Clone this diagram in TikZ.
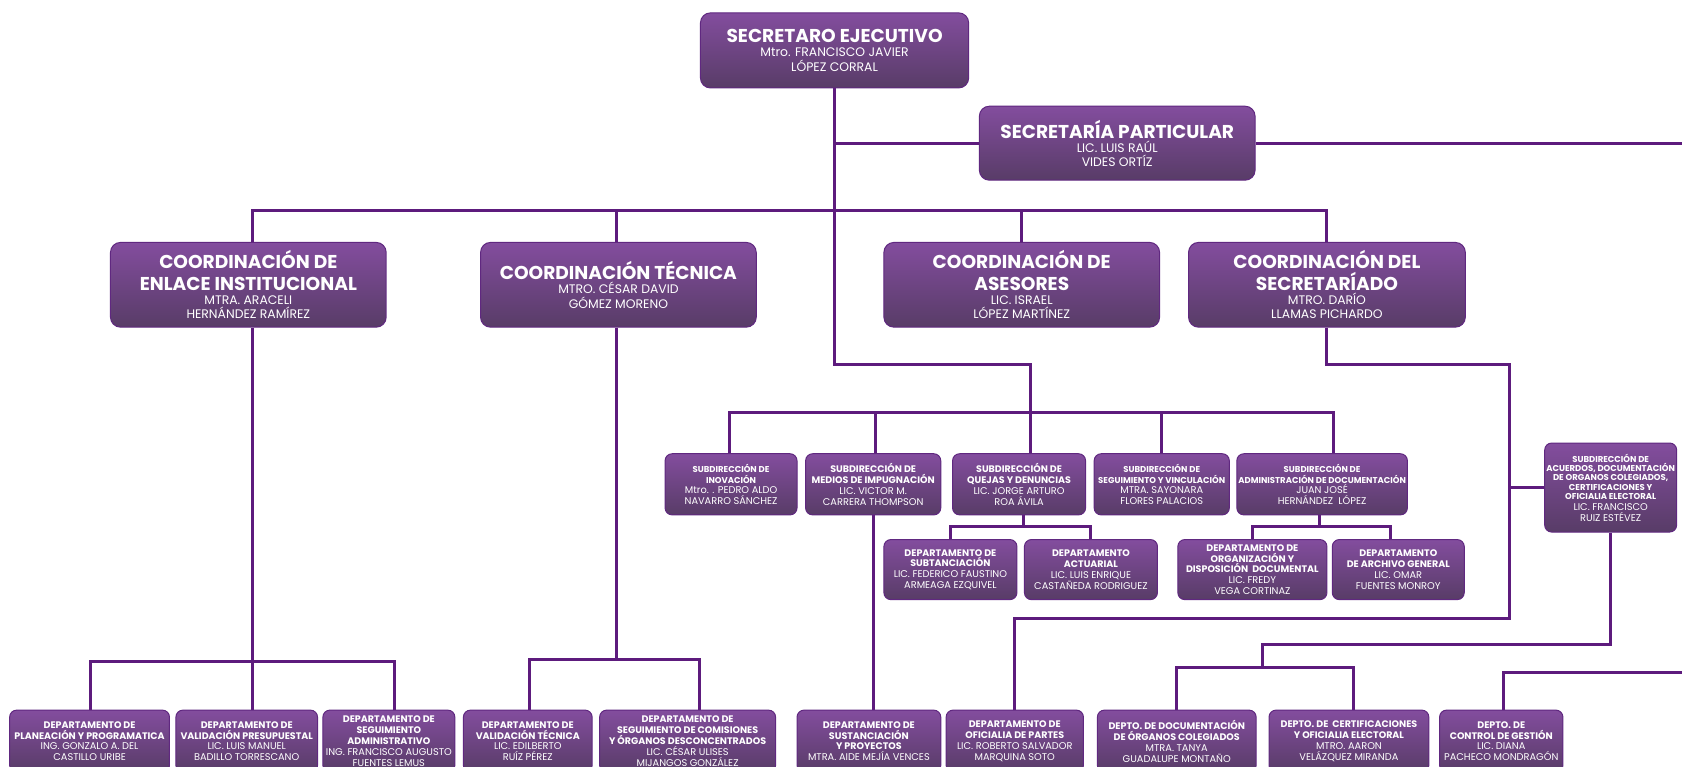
\documentclass[tikz,border=0pt]{standalone}
\usepackage{fontspec}
\setmainfont{Poppins}
\usetikzlibrary{backgrounds}

% one drawing unit
\newcommand\uPx{0.53635pt}

\definecolor{boxtop}{RGB}{131,77,158}
\definecolor{boxbot}{RGB}{88,60,103}
\definecolor{boxedge}{RGB}{96,40,128}
\definecolor{linkc}{RGB}{93,27,125}

% type sizes
\newcommand\TitA{\fontsize{9.3}{10}\selectfont\bfseries}
\newcommand\NamA{\fontsize{6.2}{7}\selectfont\mdseries}
\newcommand\TitB{\fontsize{4.75}{5}\selectfont\bfseries}
\newcommand\TitC{\fontsize{4.25}{5}\selectfont\bfseries}
\newcommand\NamB{\fontsize{4.9}{5}\selectfont\mdseries}

\tikzset{
  orgbox/.style={draw=boxedge, line width=0.5pt, top color=boxtop, bottom color=boxbot,
    text=white, align=center, inner sep=0pt},
  big/.style={orgbox, rounded corners=5pt, minimum width=257*\uPx, minimum height=79*\uPx,
    font=\fontsize{6.2}{7.1}\selectfont},
  small/.style={orgbox, rounded corners=3.5pt,
    font=\fontsize{4.9}{5.4}\selectfont},
  sub/.style={small, minimum height=57*\uPx},
  dept/.style={small, minimum height=56*\uPx},
  low/.style={small, minimum height=58*\uPx},
  link/.style={draw=linkc, line width=1.5pt},
}

\begin{document}
\lineskiplimit=-20pt
\begin{tikzpicture}[x=0.53635pt, y=-0.53635pt]
\useasboundingbox (0,0) rectangle (1568,715);
\clip (0,0) rectangle (1568,715);

% ---- top level
\node[big, minimum width=250*\uPx, minimum height=70*\uPx] (se) at (778,47)
  {\TitA SECRETARO EJECUTIVO\\\NamA Mtro. FRANCISCO JAVIER\\\NamA LÓPEZ CORRAL};
\node[big, minimum height=69*\uPx] (sp) at (1041.5,133.5)
  {\TitA SECRETARÍA PARTICULAR\\\NamA LIC. LUIS RAÚL\\\NamA VIDES ORTÍZ};

% ---- coordinations
\node[big] (enlace) at (231.5,265.5)
  {\TitA COORDINACIÓN DE\\[3.8pt]\TitA ENLACE INSTITUCIONAL\\\NamA MTRA. ARACELI\\\NamA HERNÁNDEZ RAMÍREZ};
\node[big] (tecnica) at (576.5,265.5)
  {\TitA COORDINACIÓN TÉCNICA\\\NamA MTRO. CÉSAR DAVID\\\NamA GÓMEZ MORENO};
\node[big] (asesores) at (952.5,265.5)
  {\TitA COORDINACIÓN DE\\[3.8pt]\TitA ASESORES\\\NamA LIC. ISRAEL\\\NamA LÓPEZ MARTÍNEZ};
\node[big, minimum width=258*\uPx] (secretariado) at (1237,265.5)
  {\TitA COORDINACIÓN DEL\\[3.8pt]\TitA SECRETARÍADO\\\NamA MTRO. DARÍO\\\NamA LLAMAS PICHARDO};

% ---- subdirecciones
\node[sub, minimum width=123*\uPx] (inov) at (681.5,451.5)
  {\TitC SUBDIRECCIÓN DE\\\TitC INOVACIÓN\\\NamB Mtro. . PEDRO ALDO\\\NamB NAVARRO SÁNCHEZ};
\node[sub, minimum width=126*\uPx] (medios) at (814,451.5)
  {\TitB SUBDIRECCIÓN DE\\\TitB MEDIOS DE IMPUGNACIÓN\\\NamB LIC. VICTOR M.\\\NamB CARRERA THOMPSON};
\node[sub, minimum width=124*\uPx] (quejas) at (950,451.5)
  {\TitB SUBDIRECCIÓN DE\\\TitB QUEJAS Y DENUNCIAS\\\NamB LIC. JORGE ARTURO\\\NamB ROA ÁVILA};
\node[sub, minimum width=126*\uPx] (seguim) at (1083,451.5)
  {\TitC SUBDIRECCIÓN DE\\\TitC SEGUIMIENTO Y VINCULACIÓN\\\NamB MTRA. SAYONARA\\\NamB FLORES PALACIOS};
\node[sub, minimum width=159*\uPx] (admin) at (1232.5,451.5)
  {\TitC SUBDIRECCIÓN DE\\\TitC ADMINISTRACIÓN DE DOCUMENTACIÓN\\\NamB JUAN JOSÉ\\\NamB HERNÁNDEZ\ \ LÓPEZ};
\node[small, minimum width=123*\uPx, minimum height=83*\uPx] (acuerdos) at (1501.5,454.5)
  {\TitC SUBDIRECCIÓN DE\\[-0.7pt]\TitC ACUERDOS, DOCUMENTACIÓN\\[-0.7pt]\TitC DE ORGANOS COLEGIADOS,\\[-0.7pt]\TitC CERTIFICACIONES Y\\[-0.7pt]\TitC OFICIALIA ELECTORAL\\\NamB LIC. FRANCISCO\\\NamB RUIZ ESTÉVEZ};

% ---- departments, middle row
\node[dept, minimum width=124*\uPx] (subt) at (886,531)
  {\TitB DEPARTAMENTO DE\\\TitB SUBTANCIACIÓN\\\NamB LIC. FEDERICO FAUSTINO\\\NamB ARMEAGA EZQUIVEL};
\node[dept, minimum width=124*\uPx] (actu) at (1017,531)
  {\TitB DEPARTAMENTO\\\TitB ACTUARIAL\\\NamB LIC. LUIS ENRIQUE\\\NamB CASTAÑEDA RODRIGUEZ};
\node[dept, minimum width=139*\uPx] (organ) at (1167.5,531)
  {\TitB DEPARTAMENTO DE\\\TitB ORGANIZACIÓN Y\\\TitB DISPOSICIÓN\ \ DOCUMENTAL\\\NamB LIC. FREDY\\\NamB VEGA CORTINAZ};
\node[dept, minimum width=123*\uPx] (archivo) at (1303.5,531)
  {\TitB DEPARTAMENTO\\\TitB DE ARCHIVO GENERAL\\\NamB LIC. OMAR\\\NamB FUENTES MONROY};

% ---- departments, bottom row
\node[low, minimum width=149*\uPx] (plan) at (83.5,691)
  {\TitB DEPARTAMENTO DE\\\TitB PLANEACIÓN Y PROGRAMATICA\\\NamB ING. GONZALO A. DEL\\\NamB CASTILLO URIBE};
\node[low, minimum width=132*\uPx] (valpres) at (230,691)
  {\TitB DEPARTAMENTO DE\\\TitB VALIDACIÓN PRESUPUESTAL\\\NamB LIC. LUIS MANUEL\\\NamB BADILLO TORRESCANO};
\node[low, minimum width=123*\uPx] (segadm) at (362.5,691)
  {\TitB DEPARTAMENTO DE\\\TitB SEGUIMIENTO\\\TitB ADMINISTRATIVO\\\NamB ING. FRANCISCO AUGUSTO\\\NamB FUENTES LEMUS};
\node[low, minimum width=120*\uPx] (valtec) at (492,691)
  {\TitB DEPARTAMENTO DE\\\TitB VALIDACIÓN TÉCNICA\\\NamB LIC. EDILBERTO\\\NamB RUÍZ PÉREZ};
\node[low, minimum width=164*\uPx] (segcom) at (641,691)
  {\TitB DEPARTAMENTO DE\\\TitB SEGUIMIENTO DE COMISIONES\\\TitB Y ÓRGANOS DESCONCENTRADOS\\\NamB LIC. CÉSAR ULISES\\\NamB MIJANGOS GONZÁLEZ};
\node[low, minimum width=134*\uPx] (sustpro) at (810,691)
  {\TitB DEPARTAMENTO DE\\\TitB SUSTANCIACIÓN\\\TitB Y PROYECTOS\\\NamB MTRA. AIDE MEJÍA VENCES};
\node[low, minimum width=128*\uPx] (oficpart) at (946,691)
  {\TitB DEPARTAMENTO DE\\\TitB OFICIALIA DE PARTES\\\NamB LIC. ROBERTO SALVADOR\\\NamB MARQUINA SOTO};
\node[low, minimum width=148*\uPx] (docorg) at (1097,691)
  {\TitB DEPTO. DE DOCUMENTACIÓN\\\TitB DE ÓRGANOS COLEGIADOS\\\NamB MTRA. TANYA\\\NamB GUADALUPE MONTAÑO};
\node[low, minimum width=149*\uPx] (certif) at (1257.5,691)
  {\TitB DEPTO. DE\ \ CERTIFICACIONES\\\TitB Y OFICIALIA ELECTORAL\\\NamB MTRO. AARON\\\NamB VELÁZQUEZ MIRANDA};
\node[low, minimum width=115*\uPx] (ctrlges) at (1399.5,691)
  {\TitB DEPTO. DE\\\TitB CONTROL DE GESTIÓN\\\NamB LIC. DIANA\\\NamB PACHECO MONDRAGÓN};

% ---- junction points of the connectors
\coordinate (tq) at (961,340);
\coordinate (cb0) at (235,196);
\coordinate (cb) at (1237,196);
\coordinate (sbi) at (680,385);
\coordinate (sbm) at (816,385);
\coordinate (sba) at (1243,385);
\coordinate (qd) at (954,491);
\coordinate (ad) at (1230,491);
\coordinate (arx) at (1296,491);
\coordinate (e1) at (84,617);
\coordinate (e2) at (235,617);
\coordinate (e3) at (368,617);
\coordinate (t1) at (494,615);
\coordinate (t2) at (575,615);
\coordinate (t3) at (652,615);
\coordinate (s1) at (1407,340);
\coordinate (s2) at (1407,577);
\coordinate (a1) at (1177,601);
\coordinate (a2) at (1177,622);
\coordinate (a3) at (1262,622);
\coordinate (spout) at (1568,133.5);
\coordinate (cin) at (1568,627);
\coordinate (c1) at (1402,627);

\begin{pgfonlayer}{background}
\fill[white] (0,0) rectangle (1568,715);
% main trunk
\draw[link] (se.south) |- (tq) -- (tq |- quejas.north);
\draw[link] (se.south |- sp.west) -- (sp.west);
\draw[link] (sp.east) -- (spout);
% coordinations
\draw[link] (cb0 |- enlace.north) -- (cb0) -- (cb) -- (secretariado.north);
\draw[link] (t2 |- tecnica.north) -- (t2 |- cb);
\draw[link] (asesores.north) -- (asesores.north |- cb);
% subdirecciones
\draw[link] (sbi |- inov.north) -- (sbi) -- (sba) -- (sba |- admin.north);
\draw[link] (sbm) -- (sbm |- medios.north);
\draw[link] (seguim.north) -- (seguim.north |- sbi);
% quejas
\draw[link] (quejas.south -| qd) -- (qd);
\draw[link] (subt.north) |- (actu.north |- qd) -- (actu.north);
% administracion
\draw[link] (admin.south -| ad) -- (ad);
\draw[link] (organ.north) |- (arx) -- (arx |- archivo.north);
% medios
\draw[link] (medios.south) -- (medios.south |- sustpro.north);
% enlace
\draw[link] (enlace.south -| e2) -- (e2) -- (e2 |- valpres.north);
\draw[link] (e1 |- plan.north) -- (e1) -- (e3) -- (e3 |- segadm.north);
% tecnica
\draw[link] (tecnica.south -| t2) -- (t2);
\draw[link] (t1 |- valtec.north) -- (t1) -- (t3) -- (t3 |- segcom.north);
% secretariado
\draw[link] (secretariado.south) |- (s1) -- (s2) -| (oficpart.north);
\draw[link] (acuerdos.west) -- (acuerdos.west -| s1);
% acuerdos
\draw[link] (acuerdos.south) |- (a1) -- (a2);
\draw[link] (docorg.north) |- (a3) -- (a3 |- certif.north);
% control de gestion
\draw[link] (cin) -- (c1) -- (c1 |- ctrlges.north);
\end{pgfonlayer}
\end{tikzpicture}
\end{document}
